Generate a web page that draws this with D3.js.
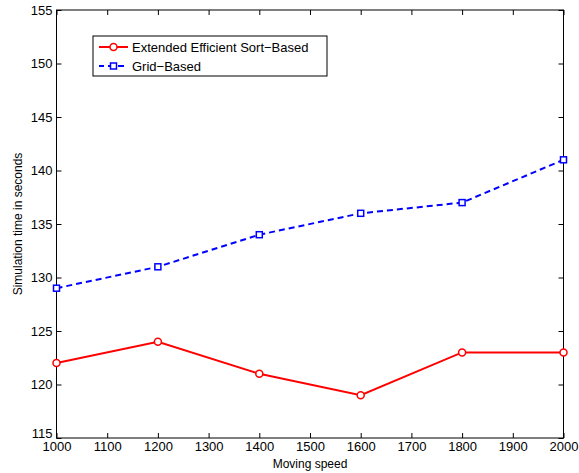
<!DOCTYPE html>
<html><head><meta charset="utf-8">
<script src="https://cdn.jsdelivr.net/npm/d3@7"></script>
<style>body{margin:0;background:#fff;} text{font-family:"Liberation Sans",Arial,Helvetica,sans-serif;}</style>
</head><body><svg id="c" width="579" height="473"></svg>
<script>
const speeds = [1000, 1200, 1400, 1600, 1800, 2000];
const sortBased = [122, 124, 121, 119, 123, 123];
const gridBased = [129, 131, 134, 136, 137, 141];
const xTicks = [1000,1100,1200,1300,1400,1500,1600,1700,1800,1900,2000];
const yTicks = [115,120,125,130,135,140,145,150,155];
const seriesNames = ["Extended Efficient Sort\u2212Based", "Grid\u2212Based"];

const svg = d3.select("#c");
const L = 56.5, R = 563.5, T = 10, B = 438;
const x = d3.scaleLinear().domain([1000, 2000]).range([L, R]);
const y = d3.scaleLinear().domain([115, 155]).range([B, T]);

const g = svg.append("g");
g.append("rect").attr("x", L).attr("y", T).attr("width", R - L).attr("height", B - T)
  .attr("fill", "none").attr("stroke", "#000").attr("stroke-width", 1);

const fs = 13;
const xb = g.append("g").attr("transform", `translate(0,${B})`)
  .call(d3.axisBottom(x).tickValues(xTicks).tickFormat(d3.format("d")).tickSizeInner(-5).tickSizeOuter(0).tickPadding(4));
const xt = g.append("g").attr("transform", `translate(0,${T})`)
  .call(d3.axisTop(x).tickValues(xTicks).tickFormat("").tickSizeInner(-5).tickSizeOuter(0));
const yl = g.append("g").attr("transform", `translate(${L},0)`)
  .call(d3.axisLeft(y).tickValues(yTicks).tickFormat(d3.format("d")).tickSizeInner(-5).tickSizeOuter(0).tickPadding(4));
const yr = g.append("g").attr("transform", `translate(${R},0)`)
  .call(d3.axisRight(y).tickValues(yTicks).tickFormat("").tickSizeInner(-5).tickSizeOuter(0));
[xb, xt, yl, yr].forEach(a => {
  a.select(".domain").remove();
  a.selectAll("line").attr("stroke", "#000");
  a.selectAll("text").attr("font-size", fs).attr("fill", "#000").style("font-family", '"Liberation Sans",Arial,sans-serif');
});
xb.selectAll("text").attr("dy", "0.71em");
yl.selectAll("text").filter(d => d === 115).attr("dy", "-0.05em");

svg.append("text").attr("x", 310).attr("y", 468).attr("text-anchor", "middle").attr("font-size", 12).text("Moving speed");
svg.append("text").attr("transform", "translate(22,224) rotate(-90)").attr("text-anchor", "middle").attr("font-size", 12).text("Simulation time in seconds");

const data1 = speeds.map((s, i) => [s, sortBased[i]]);
const data2 = speeds.map((s, i) => [s, gridBased[i]]);
const line = d3.line().x(d => x(d[0])).y(d => y(d[1]));

g.append("path").datum(data2).attr("d", line).attr("fill", "none").attr("stroke", "#0000ff").attr("stroke-width", 2).attr("stroke-dasharray", "6,4");
g.selectAll(".sq").data(data2).enter().append("rect")
  .attr("x", d => x(d[0]) - 3).attr("y", d => y(d[1]) - 3).attr("width", 6).attr("height", 6)
  .attr("fill", "#fff").attr("stroke", "#0000ff").attr("stroke-width", 1.5);

g.append("path").datum(data1).attr("d", line).attr("fill", "none").attr("stroke", "#ff0000").attr("stroke-width", 2);
g.selectAll(".ci").data(data1).enter().append("circle")
  .attr("cx", d => x(d[0])).attr("cy", d => y(d[1])).attr("r", 3.5)
  .attr("fill", "#fff").attr("stroke", "#ff0000").attr("stroke-width", 1.5);

const lg = svg.append("g");
lg.append("rect").attr("x", 93).attr("y", 36).attr("width", 234).attr("height", 40).attr("fill", "#fff").attr("stroke", "#000").attr("stroke-width", 1);
lg.append("line").attr("x1", 99).attr("x2", 128).attr("y1", 47).attr("y2", 47).attr("stroke", "#ff0000").attr("stroke-width", 2);
lg.append("circle").attr("cx", 113.5).attr("cy", 47).attr("r", 3.5).attr("fill", "#fff").attr("stroke", "#ff0000").attr("stroke-width", 1.5);
lg.append("line").attr("x1", 99).attr("x2", 128).attr("y1", 66).attr("y2", 66).attr("stroke", "#0000ff").attr("stroke-width", 2).attr("stroke-dasharray", "6,4").attr("stroke-dashoffset", 1);
lg.append("rect").attr("x", 110.5).attr("y", 63).attr("width", 6).attr("height", 6).attr("fill", "#fff").attr("stroke", "#0000ff").attr("stroke-width", 1.5);
lg.append("text").attr("x", 132).attr("y", 51.5).attr("font-size", 13).text(seriesNames[0]);
lg.append("text").attr("x", 132).attr("y", 70.5).attr("font-size", 13).text(seriesNames[1]);
</script></body></html>
